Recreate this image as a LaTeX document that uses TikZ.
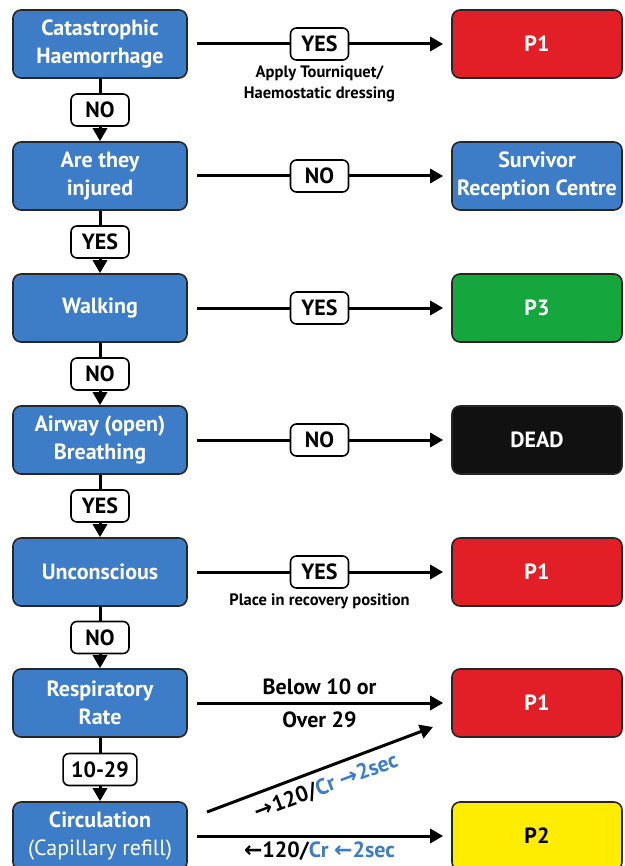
\documentclass[tikz,border=0pt]{standalone}
\usepackage{fontspec}
\setmainfont{PT Sans}
\newfontfamily\arrfont{DejaVu Sans}
\usetikzlibrary{arrows.meta}

\definecolor{boxblue}{RGB}{61,124,198}
\definecolor{boxred}{RGB}{226,30,38}
\definecolor{boxgreen}{RGB}{22,166,62}
\definecolor{boxyellow}{RGB}{255,237,0}
\definecolor{boxblack}{RGB}{17,17,17}

\tikzset{
  qbox/.style={draw=black!85, line width=1.6pt, rounded corners=8pt, fill=boxblue,
    text=white, font=\bfseries\fontsize{22}{28}\selectfont, align=center,
    minimum width=174pt, minimum height=68pt, inner sep=0pt},
  rbox/.style={qbox, minimum width=170pt},
  ans/.style={draw=black, line width=1.6pt, rounded corners=6pt, fill=white,
    font=\bfseries\fontsize{22}{24}\selectfont, minimum height=32pt, minimum width=58pt,
    inner xsep=8pt, inner ysep=0pt},
  arr/.style={line width=3pt, -{Triangle[length=13pt,width=14pt]}},
  note/.style={font=\bfseries\fontsize{16.5}{21}\selectfont, align=center},
  big/.style={font=\bfseries\fontsize{22}{32}\selectfont, align=center},
  harr/.style={arr, shorten <=9pt, shorten >=8pt}
}

\newcommand{\rarr}{{\arrfont\bfseries\char"2192}}
\newcommand{\larr}{{\arrfont\bfseries\char"2190}}

\begin{document}
\begin{tikzpicture}[x=1pt,y=-1pt]
\useasboundingbox (0,0) rectangle (624,866);

% Questions on the left
\node[qbox] (haem) at (100,44)  {Catastrophic\\Haemorrhage};
\node[qbox] (inj)  at (100,176) {Are they\\injured};
\node[qbox] (walk) at (100,308) {Walking};
\node[qbox] (air)  at (100,440) {Airway (open)\\Breathing};
\node[qbox] (unc)  at (100,572) {Unconscious};
\node[qbox] (resp) at (100,703) {Respiratory\\Rate};
\node[qbox] (circ) at (100,836) {Circulation\\{\mdseries (Capillary refill)}};

% Outcomes on the right
\node[rbox, fill=boxred]    (p1a)  at (537,44)  {P1};
\node[rbox]                 (src)  at (537,176) {Survivor\\Reception Centre};
\node[rbox, fill=boxgreen]  (p3)   at (537,308) {P3};
\node[rbox, fill=boxblack]  (dead) at (537,440) {DEAD};
\node[rbox, fill=boxred]    (p1b)  at (537,572) {P1};
\node[rbox, fill=boxred]    (p1c)  at (537,703) {P1};
\node[rbox, fill=boxyellow, text=black] (p2) at (537,836) {P2};

% Down the left column
\draw[arr] (haem) -- node[ans] {NO} (inj);
\draw[arr] (inj)  -- node[ans] {YES} (walk);
\draw[arr] (walk) -- node[ans] {NO} (air);
\draw[arr] (air)  -- node[ans] {YES} (unc);
\draw[arr] (unc)  -- node[ans] {NO} (resp);
\draw[arr] (resp) -- node[ans] {10-29} (circ);

% Across to the outcomes
\draw[harr] (haem) -- node[ans] (y1) {YES} (p1a);
\node[note, below=1pt] (tq) at (y1.south) {Apply Tourniquet/\\Haemostatic dressing};
\draw[harr] (inj)  -- node[ans] {NO} (src);
\draw[harr] (walk) -- node[ans] {YES} (p3);
\draw[harr] (air)  -- node[ans] {NO} (dead);
\draw[harr] (unc)  -- node[ans] (y5) {YES} (p1b);
\node[note, below=1pt] (rec) at (y5.south) {Place in recovery position};
\draw[harr] (resp) -- node[big] {Below 10 or\\[1pt]Over 29} (p1c);

% Circulation
\coordinate (cstart) at (207,812);
\coordinate (cend)   at (433,727);
\draw[arr] (cstart) -- node[midway, below=4pt, sloped, big]
  {\rarr120/\textcolor{boxblue}{Cr \rarr2sec}} (cend);
\draw[harr] (circ) -- node[below=1pt, big]
  {\larr120/\textcolor{boxblue}{Cr \larr2sec}} (p2);
\end{tikzpicture}
\end{document}
